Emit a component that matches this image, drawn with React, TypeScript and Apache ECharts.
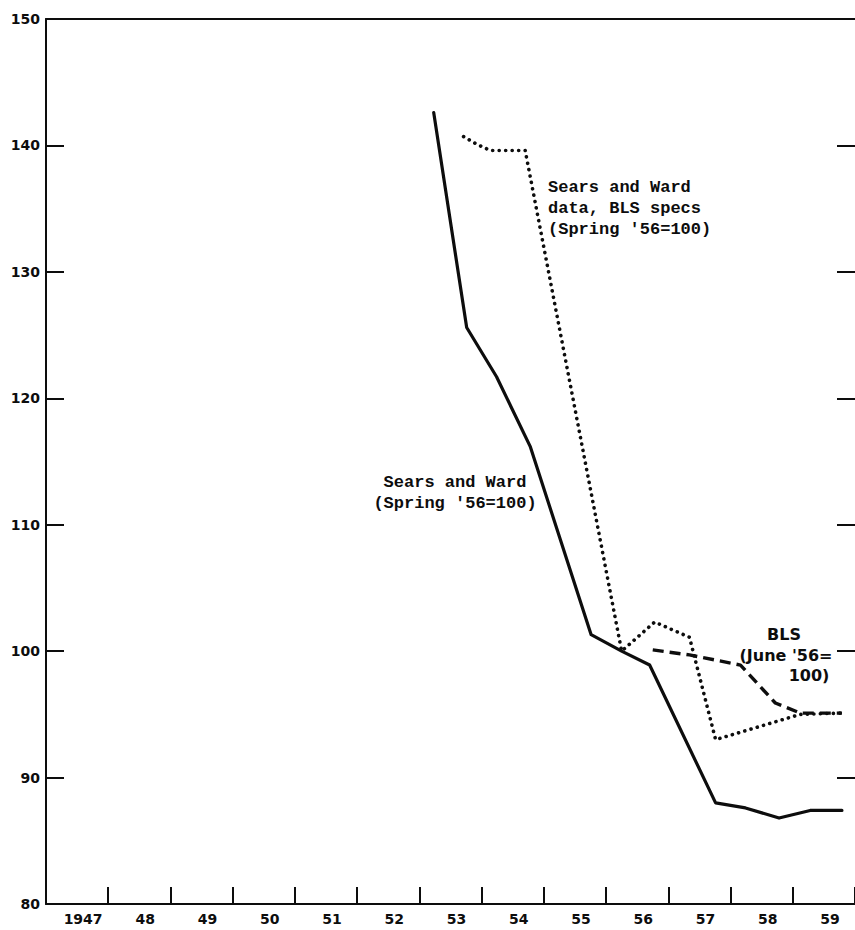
import React, { useEffect, useRef } from "react";
import * as echarts from "echarts";

// Year band labels along the bottom
const yearLabels = ["1947", "48", "49", "50", "51", "52", "53", "54", "55", "56", "57", "58", "59"];

// Sears and Ward (Spring '56=100) — solid
const searsWardX = [1953.23, 1953.76, 1954.24, 1954.78, 1955.76, 1956.25, 1956.7, 1957.76, 1958.24, 1958.78, 1959.28, 1959.79];
const searsWardY = [142.6, 125.6, 121.7, 116.2, 101.3, 100.0, 98.9, 88.0, 87.6, 86.8, 87.4, 87.4];

// Sears and Ward data, BLS specs (Spring '56=100) — dotted
const searsBlsX = [1953.71, 1953.92, 1954.14, 1954.7, 1956.25, 1956.78, 1957.34, 1957.76, 1959.12, 1959.79];
const searsBlsY = [140.7, 140.1, 139.6, 139.6, 100.0, 102.3, 101.1, 93.0, 95.0, 95.1];

// BLS (June '56=100) — dashed
const blsX = [1956.75, 1957.34, 1958.16, 1958.72, 1959.12, 1959.79];
const blsY = [100.1, 99.7, 98.9, 95.9, 95.1, 95.1];

const yTicks = [80, 90, 100, 110, 120, 130, 140, 150];

const INK = "#0d0d0d";
const LABEL_FONT = "'DejaVu Sans', sans-serif";
const TYPE_FONT = "'Liberation Mono', 'DejaVu Sans Mono', monospace";

const zip = (xs: number[], ys: number[]) => xs.map((x, i) => [x, ys[i]]);

export default function App() {
  const ref = useRef<HTMLDivElement>(null);

  useEffect(() => {
    if (!ref.current) return;
    const chart = echarts.init(ref.current, undefined, { renderer: "svg" });
    const yMin = yTicks[0];
    const yMax = yTicks[yTicks.length - 1];
    chart.setOption({
      animation: false,
      backgroundColor: "#fff",
      grid: { left: 46, top: 19, width: 812, height: 885, containLabel: false },
      xAxis: [
        {
          type: "value",
          position: "bottom",
          min: 1947,
          max: 1960,
          interval: 1,
          axisLine: { show: true, lineStyle: { color: INK, width: 2 } },
          axisTick: { show: true, inside: true, length: 17, lineStyle: { color: INK, width: 2 } },
          axisLabel: { show: false },
          splitLine: { show: false },
        },
        {
          type: "category",
          position: "bottom",
          data: yearLabels,
          boundaryGap: true,
          axisLine: { show: false },
          axisTick: { show: false },
          axisLabel: {
            show: true,
            color: INK,
            fontFamily: LABEL_FONT,
            fontSize: 14,
            fontWeight: "bold",
            margin: 8,
            padding: [0, 0, 0, 12],
          },
          splitLine: { show: false },
        },
        {
          type: "value",
          position: "top",
          min: 1947,
          max: 1960,
          interval: 1,
          axisLine: { show: true, lineStyle: { color: INK, width: 2 } },
          axisTick: { show: false },
          axisLabel: { show: false },
          splitLine: { show: false },
        },
      ],
      yAxis: [
        {
          type: "value",
          position: "left",
          min: yMin,
          max: yMax,
          interval: 10,
          axisLine: { show: true, lineStyle: { color: INK, width: 2 } },
          axisTick: { show: true, inside: true, length: 18, lineStyle: { color: INK, width: 2 } },
          axisLabel: {
            show: true,
            color: INK,
            fontFamily: LABEL_FONT,
            fontSize: 14,
            fontWeight: "bold",
            margin: 6,
          },
          splitLine: { show: false },
        },
        {
          type: "value",
          position: "right",
          min: yMin,
          max: yMax,
          interval: 10,
          axisLine: { show: false },
          axisTick: { show: true, inside: true, length: 18, lineStyle: { color: INK, width: 2 } },
          axisLabel: { show: false },
          splitLine: { show: false },
        },
      ],
      series: [
        {
          name: "Sears and Ward",
          type: "line",
          xAxisIndex: 0,
          yAxisIndex: 0,
          data: zip(searsWardX, searsWardY),
          symbol: "none",
          lineStyle: { color: INK, width: 3.2, join: "round", cap: "round" },
        },
        {
          name: "Sears and Ward data, BLS specs",
          type: "line",
          xAxisIndex: 0,
          yAxisIndex: 0,
          data: zip(searsBlsX, searsBlsY),
          symbol: "none",
          lineStyle: { color: INK, width: 3.6, type: [0.1, 6.4], cap: "round", join: "round" },
        },
        {
          name: "BLS",
          type: "line",
          xAxisIndex: 0,
          yAxisIndex: 0,
          data: zip(blsX, blsY),
          symbol: "none",
          lineStyle: { color: INK, width: 3.4, type: [11, 6], cap: "butt", join: "round" },
        },
      ],
      graphic: [
        {
          type: "text",
          left: 548,
          top: 177,
          style: {
            text: "Sears and Ward\ndata, BLS specs\n(Spring '56=100)",
            font: `bold 17px ${TYPE_FONT}`,
            lineHeight: 21,
            fill: INK,
            textAlign: "left",
          },
        },
        {
          type: "text",
          x: 455,
          y: 472,
          style: {
            text: "Sears and Ward\n(Spring '56=100)",
            font: `bold 17px ${TYPE_FONT}`,
            lineHeight: 21,
            fill: INK,
            textAlign: "center",
            textVerticalAlign: "top",
          },
        },
        {
          type: "text",
          x: 784,
          y: 634,
          style: { text: "BLS", font: `bold 16px ${LABEL_FONT}`, fill: INK, textAlign: "center", textVerticalAlign: "middle" },
        },
        {
          type: "text",
          x: 786,
          y: 655,
          style: { text: "(June '56=", font: `bold 16px ${LABEL_FONT}`, fill: INK, textAlign: "center", textVerticalAlign: "middle" },
        },
        {
          type: "text",
          x: 809,
          y: 675,
          style: { text: "100)", font: `bold 16px ${LABEL_FONT}`, fill: INK, textAlign: "center", textVerticalAlign: "middle" },
        },
      ],
    });
    return () => chart.dispose();
  }, []);

  return (
    <div
      ref={ref}
      style={{ position: "absolute", left: 0, top: 0, width: 855, height: 930, background: "#fff" }}
    />
  );
}
